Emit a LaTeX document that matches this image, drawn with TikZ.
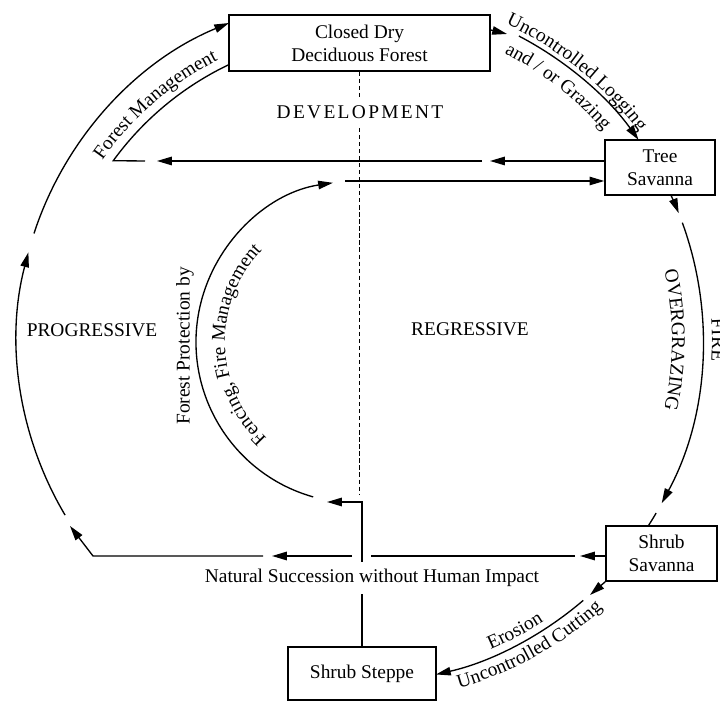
\documentclass[tikz,border=0pt]{standalone}
\usepackage{fontspec}
\setmainfont{Liberation Serif}
\usetikzlibrary{arrows.meta,calc,decorations.text}

\begin{document}
\begin{tikzpicture}[
	x=0.025cm,
	y=0.025cm,
	stagebox/.style={
		rectangle,
		draw=black,
		line width=1pt,
		align=center,
		inner sep=2pt
	},
	link/.style={
		line width=0.95pt
	},
	arrowlink/.style={
		link,
		-{Triangle[length=10.5pt,width=6pt]}
	},
	devline/.style={
		line width=0.8pt,
		dash pattern=on 3pt off 2pt
	},
	arclabel/.style={
		decorate,
		decoration={
			text along path,
			text align=center,
			text={#1}
		}
	}
]

\fontsize{13.8}{16.5}\selectfont
\useasboundingbox (0,0) rectangle (720,702);



\def\cx{360}
\def\cy{362}
\def\R{343} % outer cycle
\def\r{161} % inner half circle

\coordinate (bigc) at (\cx,\cy);
\coordinate (smallc) at (357,360);



\node [stagebox, minimum width=6.525cm, minimum height=1.4cm] (forest) at (359.5,659) {Closed Dry\\Deciduous Forest};
\node [stagebox, minimum width=2.75cm, minimum height=1.375cm] (treesav) at (660,534.5) {Tree\\Savanna};
\node [stagebox, minimum width=2.775cm, minimum height=1.375cm] (shrubsav) at (661.5,148.5) {Shrub\\Savanna};
\node [stagebox, minimum width=3.7cm, minimum height=1.325cm] (steppe) at (362,28.5) {Shrub Steppe};



% dividing line
\coordinate (devend) at (360,207);
\draw [devline] (forest.south) -- (forest.south |- devend);



% natural succession, back to the forest
\coordinate (ns1) at (580,146);
\coordinate (ns2) at (575,146);
\coordinate (ns3) at (371,146);
\coordinate (ns4) at (352,146);
\coordinate (ns5) at (272,146);
\coordinate (ns6) at (263,146);
\coordinate (ns7) at (93,146);
\coordinate (ns8) at (70,176);

\draw [arrowlink] (shrubsav.west |- ns1) -- (ns1);
\draw [link] (ns2) -- (ns3);
\draw [arrowlink] (ns4) -- (ns5);
\draw [arrowlink] (ns6) -- (ns7) -- (ns8);
\draw [arrowlink] ($(bigc)+(210.7:\R)$) arc[start angle=210.7, end angle=165.2, radius=\R];
\draw [arrowlink] ($(bigc)+(161.9:\R)$) arc[start angle=161.9, end angle=112.45, radius=\R];



% logging
\coordinate (lg1) at (507,668);
\draw [arrowlink] ($(forest.east)+(0,13)$) -- (lg1);
\draw [arrowlink] ($(bigc)+(62.4:\R)$) arc[start angle=62.4, end angle=35.7, radius=\R];



% fire, overgrazing
\draw [arrowlink] ($(bigc)+(25:\R)$) arc[start angle=25, end angle=21.7, radius=\R];
\draw [arrowlink] ($(bigc)+(20:\R)$) arc[start angle=20, end angle=-28.4, radius=\R];
\draw [link] ($(bigc)+(-30.3:\R)$) arc[start angle=-30.3, end angle=-32.84, radius=\R];



% erosion
\coordinate (er1) at (590,107);
\draw [arrowlink] (shrubsav.south west) -- (er1);
\draw [arrowlink] ($(bigc)+(-49.4:\R)$) arc[start angle=-49.4, end angle=-77.2, radius=\R];



% forest management
\coordinate (fm1) at (490,541);
\coordinate (fm2) at (482,541);
\coordinate (fm3) at (157,541);
\coordinate (fm4) at (145,541);

\draw [arrowlink] (treesav.west |- fm1) -- (fm1);
\draw [arrowlink] (fm2) -- (fm3);
\draw [link] (fm4) -- ($(bigc)+(144:305)$) arc[start angle=144, end angle=115.4, radius=305];



% forest protection
\coordinate (fp1) at (327,200);
\coordinate (fp2) at (345,521);

\draw [arrowlink] (steppe.north) -- (steppe.north |- fp1) -- (fp1);
\draw [arrowlink] ($(smallc)+(254.2:\r)$) arc[start angle=254.2, end angle=98.6, radius=\r];
\draw [arrowlink] (fp2) -- (treesav.west |- fp2);



\node [fill=white, inner xsep=1pt, inner ysep=5pt] (devlabel) at (360,590) {\addfontfeature{LetterSpace=12}DEVELOPMENT};
\node (proglabel) at (92,372) {PROGRESSIVE};
\node (regrlabel) at (470,373) {REGRESSIVE};
\node [fill=white, inner xsep=2pt, inner ysep=5pt] (natlabel) at (372,124) {Natural Succession without Human Impact};
\node [rotate=90] (protlabel) at (185,356) {Forest Protection by};

\path [arclabel={Forest Management}] ($(bigc)+(165:314)$) arc[start angle=165, end angle=97, radius=314];
\path [arclabel={Uncontrolled Logging}] ($(bigc)+(80:348)$) arc[start angle=80, end angle=22, radius=348];
\path [arclabel={and / or Grazing}] ($(bigc)+(82:321)$) arc[start angle=82, end angle=22, radius=321];
\path [arclabel={OVERGRAZING}] ($(bigc)+(30:312)$) arc[start angle=30, end angle=-30, radius=312];
\path [arclabel={FIRE}] ($(bigc)+(20:352)$) arc[start angle=20, end angle=-20, radius=352];
\path [arclabel={Erosion}] ($(bigc)+(-80:336)$) arc[start angle=-80, end angle=-44, radius=336];
\path [arclabel={Uncontrolled Cutting}] ($(bigc)+(-85:362)$) arc[start angle=-85, end angle=-37, radius=362];
\path [arclabel={Fencing, Fire Management}] ($(smallc)+(250:132)$) arc[start angle=250, end angle=113, radius=132];



\end{tikzpicture}
\end{document}
